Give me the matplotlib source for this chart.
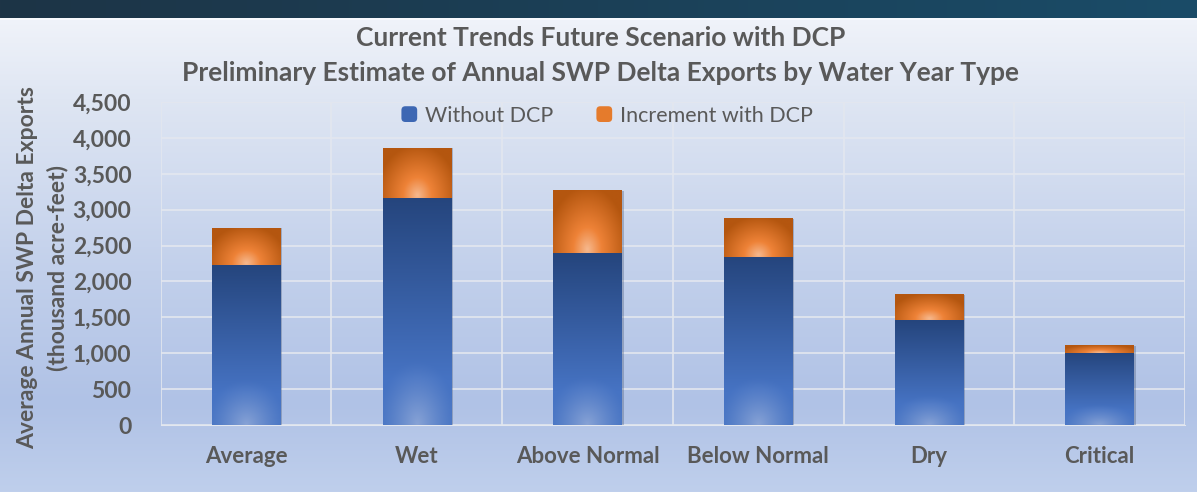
import numpy as np
import matplotlib
matplotlib.use("Agg")
import matplotlib.pyplot as plt
from matplotlib.patches import FancyBboxPatch
from matplotlib.legend_handler import HandlerPatch

categories = ["Average", "Wet", "Above Normal", "Below Normal", "Dry", "Critical"]
without_dcp = [2230, 3165, 2390, 2345, 1460, 1005]
increment_dcp = [520, 700, 880, 535, 360, 105]
yticks = [0, 500, 1000, 1500, 2000, 2500, 3000, 3500, 4000, 4500]

TXT = "#595959"
plt.rcParams['font.family'] = ['Lato', 'DejaVu Sans']

W, H = 1197, 492
fig = plt.figure(figsize=(W / 100, H / 100), dpi=100)

# background
bg = fig.add_axes([0, 0, 1, 1], zorder=-10)
bg.set_axis_off()
rows = np.linspace(0, 1, H)
def hex2rgb(h):
    h = h.lstrip('#')
    return np.array([int(h[i:i + 2], 16) / 255 for i in (0, 2, 4)])
stops_y = [0.0, 0.2, 0.55, 0.82, 1.0]
stops_c = [hex2rgb(c) for c in ["#f4f6fb", "#dfe6f3", "#c2d0eb", "#b0c2e6", "#bfcfec"]]
col = np.zeros((H, 3))
for k in range(3):
    col[:, k] = np.interp(rows, stops_y, [c[k] for c in stops_c])
img = np.repeat(col[:, None, :], W, axis=1)
strip = 18
xs = np.linspace(0, 1, W)
c1, c2 = hex2rgb("#1d3446"), hex2rgb("#1a4c68")
for k in range(3):
    img[:strip, :, k] = c1[k] + (c2[k] - c1[k]) * xs[None, :]
img[strip:strip + 2, :, :] = hex2rgb("#f7f9fd")
bg.imshow(img, extent=(0, 1, 0, 1), aspect='auto', origin='upper')
bg.set_xlim(0, 1); bg.set_ylim(0, 1)

ax = fig.add_axes([160.7 / W, 1 - 425 / H, (1185 - 160.7) / W, (425 - 102) / H])
ax.patch.set_alpha(0)
x = np.arange(len(categories))
bw = 0.40
b1 = ax.bar(x, without_dcp, bw, color="#3a64ad", zorder=3, label="Without DCP")
b2 = ax.bar(x, increment_dcp, bw, bottom=without_dcp, color="#e07a30", zorder=3,
            label="Increment with DCP")

def blue_grad(n=120, m=60):
    v = np.linspace(1, 0, n)[:, None]  # 1 top, 0 bottom
    u = np.linspace(0, 1, m)[None, :]
    top, mid = hex2rgb("#25457d"), hex2rgb("#4673c3")
    t = np.clip((1 - v) / 0.8, 0, 1)
    base = top[None, None, :] * (1 - t[..., None]) + mid[None, None, :] * t[..., None]
    base = np.broadcast_to(base, (n, m, 3)).copy()
    d = np.sqrt(((u - 0.5) / 0.6) ** 2 + (v / 0.28) ** 2)
    hl = (np.clip(1 - d, 0, 1) ** 1.3)[..., None] * 0.85
    light = hex2rgb("#93abd9")
    return base * (1 - hl) + light * hl

def orange_grad(n=80, m=60):
    v = np.linspace(1, 0, n)[:, None]
    u = np.linspace(0, 1, m)[None, :]
    d = np.sqrt(((u - 0.5) / 0.6) ** 2 + ((v - 0.05) / 1.0) ** 2)
    d = np.clip(d, 0, 1)[..., None]
    cen, mid, edge = hex2rgb("#f6b98f"), hex2rgb("#ee8237"), hex2rgb("#b4560f")
    out = np.where(d < 0.35, cen + (mid - cen) * (d / 0.35),
                   mid + (edge - mid) * ((d - 0.35) / 0.65))
    return out

bimg = blue_grad()
oimg = orange_grad()
for bars, im in ((b1, bimg), (b2, oimg)):
    for p in bars:
        x0, y0 = p.get_x(), p.get_y()
        w, h = p.get_width(), p.get_height()
        sh = plt.Rectangle((x0 + 0.012, y0 - 12), w, h, color="#4a5a78", alpha=0.35,
                           zorder=2.5, lw=0)
        ax.add_patch(sh)
        ai = ax.imshow(im, extent=(x0, x0 + w, y0, y0 + h), aspect='auto',
                       zorder=4, interpolation='bilinear')
        ai.set_clip_path(p)

ax.set_xlim(-0.5, len(categories) - 0.5)
ax.set_ylim(0, 4500)
ax.set_yticks(yticks)
ax.set_yticklabels([f"{v:,}" for v in yticks])
ax.set_xticks(x)
ax.set_xticklabels(categories)
ax.set_xticks(np.arange(-0.5, len(categories)), minor=True)
ax.grid(True, axis='y', color="#e3e7ef", lw=1.2, zorder=1)
ax.grid(True, axis='x', which='minor', color="#e3e7ef", lw=1.2, zorder=1)
ax.grid(False, axis='x', which='major')
for s in ax.spines.values():
    s.set_visible(False)
ax.spines['bottom'].set_visible(True)
ax.spines['bottom'].set_color("#e3e7ef")
ax.tick_params(axis='both', which='both', length=0, colors=TXT)
for t in ax.get_yticklabels():
    t.set_fontsize(16.5); t.set_fontweight('bold'); t.set_color(TXT)
for t in ax.get_xticklabels():
    t.set_fontsize(16); t.set_fontweight('bold'); t.set_color(TXT)
ax.tick_params(axis='y', pad=21)
ax.tick_params(axis='x', pad=15)

fig.text(28 / W, 1 - 268 / H, "Average Annual SWP Delta Exports", rotation=90,
         ha='center', va='center', fontsize=16.5, fontweight='bold', color=TXT)
fig.text(57 / W, 1 - 268 / H, "(thousand acre-feet)", rotation=90,
         ha='center', va='center', fontsize=16.5, fontweight='bold', color=TXT)

fig.text(601 / W, 1 - 38 / H, "Current Trends Future Scenario with DCP", ha='center',
         va='center', fontsize=19, fontweight='bold', color=TXT)
fig.text(601 / W, 1 - 73 / H,
         "Preliminary Estimate of Annual SWP Delta Exports by Water Year Type",
         ha='center', va='center', fontsize=19, fontweight='bold', color=TXT)

class RoundHandler(HandlerPatch):
    def create_artists(self, legend, orig_handle, xdescent, ydescent, width, height,
                       fontsize, trans):
        s = min(width, height)
        p = FancyBboxPatch(((width - s) / 2, (height - s) / 2), s, s,
                           boxstyle="round,pad=0,rounding_size=%f" % (s * 0.25),
                           facecolor=orig_handle.get_facecolor(), edgecolor="none",
                           transform=trans)
        return [p]

handles = [plt.Rectangle((0, 0), 1, 1, facecolor="#3d67b3"),
           plt.Rectangle((0, 0), 1, 1, facecolor="#e57b2c")]
leg = fig.legend(handles, ["Without DCP", "Increment with DCP"], loc='center',
                 bbox_to_anchor=(607 / W, 1 - 116 / H), ncol=2, frameon=False,
                 fontsize=15.5, handlelength=0.75, handleheight=0.75,
                 handletextpad=0.35, columnspacing=2.0, labelcolor=TXT,
                 handler_map={plt.Rectangle: RoundHandler()})

fig.savefig("out.png", dpi=100)
